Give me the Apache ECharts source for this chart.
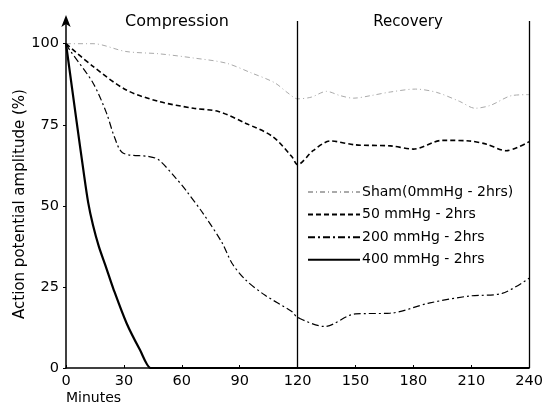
<!DOCTYPE html>
<html>
<head>
<meta charset="utf-8">
<script src="https://cdn.jsdelivr.net/npm/echarts@6/dist/echarts.min.js"></script>
<style>html,body{margin:0;padding:0;background:#fff}#c{width:546px;height:405px}</style>
</head>
<body>
<div id="c"></div>
<script>
const seriesNames = ['Sham(0mmHg - 2hrs)', '50 mmHg - 2hrs', '200 mmHg - 2hrs', '400 mmHg - 2hrs'];
const xTicks = [0, 30, 60, 90, 120, 150, 180, 210, 240];
const yTicks = [0, 25, 50, 75, 100];
const phaseLabels = ['Compression', 'Recovery'];

const shamTimes = [0, 14, 31, 48, 66, 83, 96, 108, 115, 120, 127, 135, 142, 149, 158, 168, 181, 192, 204, 212, 220, 231, 240];
const shamVals  = [100, 100, 97.6, 96.9, 95.6, 94, 91, 88, 84.8, 83, 83.5, 85.3, 84, 83.2, 84, 85.1, 86, 85, 82.2, 80.1, 81, 84, 84.3];

const mm50Times = [0, 14, 31, 48, 66, 79, 93, 107, 117, 120, 128, 137, 150, 168, 180, 195, 209, 218, 228, 240];
const mm50Vals  = [100, 93, 85.8, 82.2, 80.1, 79.1, 75.5, 71.4, 65.2, 62.7, 67, 70, 68.8, 68.5, 67.5, 70.2, 70, 69, 67, 69.8];

const mm200Times = [0, 2, 14, 21, 25, 29.5, 43, 48, 57, 62, 71, 81, 86, 93, 103, 117, 120, 134, 150, 168, 188, 209, 226, 240];
const mm200Vals  = [100, 98, 87.9, 78.6, 71.4, 66.3, 65.2, 64.2, 58.5, 54.9, 47.7, 38.5, 32.3, 27.2, 22.5, 17.4, 15.6, 12.8, 16.7, 16.9, 20, 22.2, 23, 27.7];

const mm400Times = [0, 5.5, 9, 11.5, 14, 17, 20.5, 24.5, 31.4, 38.3, 43.8, 44.2, 240];
const mm400Vals  = [100, 76, 61, 51, 44, 37.5, 31.5, 24.5, 13.8, 5.6, 0, 0, 0];

const phaseBoundaries = [120, 240];

function pairs(t, v) { return t.map((x, i) => [x, v[i]]); }

const FONT = 'DejaVu Sans';
const chart = echarts.init(document.getElementById('c'), null, {renderer: 'canvas'});
chart.setOption({
  animation: false,
  backgroundColor: '#fff',
  textStyle: {fontFamily: FONT, color: '#000'},
  grid: {left: 66, right: 16, top: 21, bottom: 37},
  xAxis: {
    type: 'value', min: 0, max: 240, interval: 30,
    axisLine: {lineStyle: {color: '#000', width: 1.5}},
    axisTick: {inside: true, length: 3, lineStyle: {color: '#000'}},
    axisLabel: {color: '#000', fontFamily: FONT, fontSize: 14.5, margin: 6,
      formatter: v => xTicks.includes(v) ? String(v) : ''},
    splitLine: {show: false}
  },
  yAxis: {
    type: 'value', min: 0, max: 107, interval: 25,
    axisLine: {show: true, symbol: ['none', 'arrow'], symbolSize: [7, 12], symbolOffset: [0, 6],
      lineStyle: {color: '#000', width: 1.5}},
    axisTick: {show: true, length: 3, lineStyle: {color: '#000'}},
    axisLabel: {color: '#000', fontFamily: FONT, fontSize: 14.5, margin: 7, showMaxLabel: false,
      formatter: v => yTicks.includes(v) ? String(v) : ''},
    splitLine: {show: false}
  },
  legend: {
    orient: 'vertical', left: 302, top: 180,
    itemWidth: 52, itemHeight: 14, itemGap: 8.6,
    itemStyle: {opacity: 0},
    textStyle: {fontFamily: FONT, fontSize: 14, color: '#000', padding: [0, 0, 0, -3]},
    data: seriesNames.map(n => ({name: n}))
  },
  graphic: [
    {type: 'text', x: 177, y: 22, style: {text: phaseLabels[0], font: '16px "DejaVu Sans"', fill: '#000', align: 'center', verticalAlign: 'middle'}},
    {type: 'text', x: 408, y: 22, style: {text: phaseLabels[1], font: '15px "DejaVu Sans"', fill: '#000', align: 'center', verticalAlign: 'middle'}},
    {type: 'text', x: 20, y: 204, rotation: Math.PI / 2, style: {text: 'Action potential amplitude (%)', font: '15px "DejaVu Sans"', fill: '#000', align: 'center', verticalAlign: 'middle'}},
    {type: 'text', x: 66, y: 391, style: {text: 'Minutes', font: '14px "DejaVu Sans"', fill: '#000', align: 'left', verticalAlign: 'top'}}
  ],
  series: [
    {name: seriesNames[0], type: 'line', data: pairs(shamTimes, shamVals), showSymbol: false, symbol: 'none', smooth: 0.3,
      lineStyle: {color: '#aaaaaa', width: 1, type: [5, 3, 1, 3]}, itemStyle: {color: '#aaaaaa'}},
    {name: seriesNames[1], type: 'line', data: pairs(mm50Times, mm50Vals), showSymbol: false, symbol: 'none', smooth: 0.3,
      lineStyle: {color: '#000', width: 1.6, type: [5, 3]}, itemStyle: {color: '#000'}},
    {name: seriesNames[2], type: 'line', data: pairs(mm200Times, mm200Vals), showSymbol: false, symbol: 'none', smooth: 0.3,
      lineStyle: {color: '#000', width: 1.2, type: [7, 3, 2, 3]}, itemStyle: {color: '#000'}},
    {name: seriesNames[3], type: 'line', data: pairs(mm400Times, mm400Vals), showSymbol: false, symbol: 'none', smooth: 0.3,
      lineStyle: {color: '#000', width: 2.2}, itemStyle: {color: '#000'},
      markLine: {silent: true, symbol: 'none', label: {show: false},
        lineStyle: {color: '#000', width: 1.3, type: 'solid'},
        data: phaseBoundaries.map(b => [{coord: [b, 0]}, {coord: [b, 107]}])}}
  ]
});
</script>
</body>
</html>
